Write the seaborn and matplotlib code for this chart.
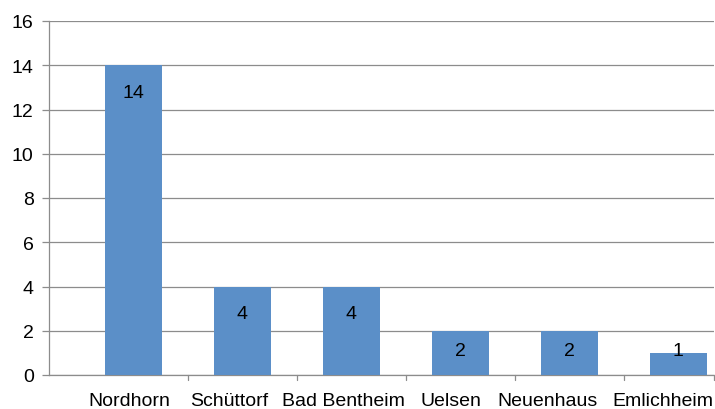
import matplotlib
matplotlib.use("Agg")
import matplotlib.pyplot as plt
import matplotlib.transforms as mtransforms
import seaborn as sns
import pandas as pd

# Data
orte = ["Nordhorn", "Schüttorf", "Bad Bentheim", "Uelsen", "Neuenhaus", "Emlichheim"]
anzahl = [14, 4, 4, 2, 2, 1]
y_ticks = [0, 2, 4, 6, 8, 10, 12, 14, 16]

# Horizontal nudges (pixels) of the category labels, as laid out by the chart tool
label_nudge_px = [-4, -13, -8, -9, -22, -15]

df = pd.DataFrame({"Ort": orte, "Anzahl": anzahl})

sns.set_theme(style="white")
plt.rcParams["font.family"] = ["Liberation Sans", "DejaVu Sans"]

fig = plt.figure(figsize=(7.15, 4.10), dpi=100)
ax = fig.add_axes([49 / 715, 34 / 410, (714 - 49) / 715, (376 - 22) / 410])

bar_color = "#5B8FC8"
grid_color = "#8C8C8C"
fs = 14

sns.barplot(data=df, x="Ort", y="Anzahl", color=bar_color, width=0.518,
            saturation=1, ax=ax, zorder=3, linewidth=0)

ax.set_ylim(0, 16)
ax.set_xlim(-0.774, 5.327)
ax.set_yticks(y_ticks)
ax.set_yticklabels([str(t) for t in y_ticks], fontsize=fs)
ax.yaxis.grid(True, color=grid_color, linewidth=0.9, zorder=0)
ax.set_axisbelow(True)
ax.set_xlabel("")
ax.set_ylabel("")

# Category labels under the bars, tick marks between categories
ax.set_xticks(range(len(orte)))
ax.set_xticklabels(orte, fontsize=fs)
ax.tick_params(axis="x", length=0, pad=12, colors="black")
ax.tick_params(axis="y", length=5, width=0.9, pad=6, colors="black", left=True)
ax.tick_params(axis="y", color=grid_color)
for lbl, dx in zip(ax.get_xticklabels(), label_nudge_px):
    lbl.set_transform(lbl.get_transform() +
                      mtransforms.ScaledTranslation(dx / 100, 0, fig.dpi_scale_trans))
for b in [i + 0.5 for i in range(len(orte) - 1)] + [5.327]:
    ax.plot([b, b], [0, -0.23], color=grid_color, linewidth=0.9, clip_on=False, zorder=4)

for s in ["top", "right"]:
    ax.spines[s].set_visible(False)
for s in ["left", "bottom"]:
    ax.spines[s].set_color(grid_color)
    ax.spines[s].set_linewidth(0.9)

# Value labels inside the bar tops
px_per_unit = 354 / 16
for i, v in enumerate(anzahl):
    y = max(v - 27 / px_per_unit, 24 / px_per_unit)
    ax.text(i, y, str(v), ha="center", va="center", fontsize=fs, color="black", zorder=5)

fig.savefig("out.png", dpi=100)
